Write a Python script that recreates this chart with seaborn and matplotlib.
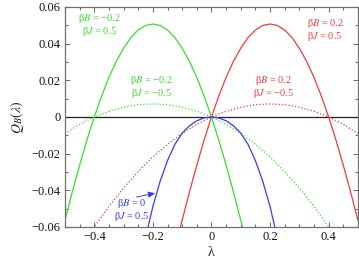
import matplotlib
matplotlib.use("Agg")
import matplotlib.pyplot as plt
import seaborn as sns
import pandas as pd
from matplotlib.ticker import MultipleLocator, FixedLocator, FixedFormatter

# ---- data ----
lam_red_solid = [-0.11, -0.1, -0.075, -0.05, -0.025, 0, 0.025, 0.05, 0.075, 0.1, 0.125, 0.15, 0.175,
                 0.2, 0.225, 0.25, 0.275, 0.3, 0.325, 0.35, 0.375, 0.4, 0.425, 0.45, 0.475, 0.5]
q_red_solid = [-0.0626, -0.0563, -0.0409, -0.0263, -0.0126, 0.0, 0.0114, 0.0216, 0.0303, 0.0375, 0.0433,
               0.0474, 0.0499, 0.0507, 0.0499, 0.0474, 0.0433, 0.0375, 0.0303, 0.0216, 0.0114, 0.0,
               -0.0126, -0.0263, -0.0409, -0.0563]

lam_green_solid = [-0.5, -0.475, -0.45, -0.425, -0.4, -0.375, -0.35, -0.325, -0.3, -0.275, -0.25, -0.225,
                   -0.2, -0.175, -0.15, -0.125, -0.1, -0.075, -0.05, -0.025, 0, 0.025, 0.05, 0.075, 0.1, 0.11]
q_green_solid = [-0.0563, -0.0409, -0.0263, -0.0126, 0.0, 0.0114, 0.0216, 0.0303, 0.0375, 0.0433, 0.0474,
                 0.0499, 0.0507, 0.0499, 0.0474, 0.0433, 0.0375, 0.0303, 0.0216, 0.0114, 0.0,
                 -0.0126, -0.0263, -0.0409, -0.0563, -0.0626]

lam_red_dot = [-0.41, -0.4, -0.35, -0.3, -0.25, -0.2, -0.15, -0.1, -0.05, 0, 0.05, 0.1, 0.15, 0.2,
               0.25, 0.3, 0.35, 0.4, 0.45, 0.5]
q_red_dot = [-0.0624, -0.0600, -0.0488, -0.0388, -0.0298, -0.0218, -0.0149, -0.0090, -0.0040, 0.0,
             0.0031, 0.0053, 0.0067, 0.0071, 0.0067, 0.0053, 0.0031, 0.0, -0.0040, -0.0090]

lam_green_dot = [-0.5, -0.45, -0.4, -0.35, -0.3, -0.25, -0.2, -0.15, -0.1, -0.05, 0, 0.05, 0.1, 0.15,
                 0.2, 0.25, 0.3, 0.35, 0.4, 0.41]
q_green_dot = [-0.0090, -0.0040, 0.0, 0.0031, 0.0053, 0.0067, 0.0071, 0.0067, 0.0053, 0.0031, 0.0,
               -0.0040, -0.0090, -0.0149, -0.0218, -0.0298, -0.0388, -0.0488, -0.0600, -0.0624]

lam_blue = [-0.225, -0.2, -0.175, -0.15, -0.125, -0.1, -0.075, -0.05, -0.025, 0,
            0.025, 0.05, 0.075, 0.1, 0.125, 0.15, 0.175, 0.2, 0.225]
q_blue = [-0.066, -0.0488, -0.0350, -0.0238, -0.0150, -0.0088, -0.0048, -0.0021, -0.0005, 0.0,
          -0.0005, -0.0021, -0.0048, -0.0088, -0.0150, -0.0238, -0.0350, -0.0488, -0.066]

x_ticks = [-0.4, -0.2, 0, 0.2, 0.4]
x_tick_labels = ["\u22120.4", "\u22120.2", "0", "0.2", "0.4"]
y_ticks = [-0.06, -0.04, -0.02, 0, 0.02, 0.04, 0.06]
y_tick_labels = ["\u22120.06", "\u22120.04", "\u22120.02", "0", "0.02", "0.04", "0.06"]

RED = "#f43a3a"
GREEN = "#3ade2e"
BLUE = "#3a3af4"

sns.set_style("ticks")
plt.rcParams["font.family"] = ["Liberation Serif", "DejaVu Serif"]
plt.rcParams["mathtext.fontset"] = "stix"

fig = plt.figure(figsize=(3.59, 2.67), dpi=100)
ax = fig.add_axes([0.181, 0.150, 0.816, 0.824])

ax.axhline(0, color="#222222", lw=0.9, zorder=1)

def draw(lam, q, color, dotted=False):
    df = pd.DataFrame({"lam": lam, "q": q})
    ls = (0, (1, 1.6)) if dotted else "-"
    sns.lineplot(data=df, x="lam", y="q", ax=ax, color=color, lw=0.9, linestyle=ls,
                 legend=False, sort=False, estimator=None, zorder=2)

draw(lam_red_dot, q_red_dot, RED, dotted=True)
draw(lam_green_dot, q_green_dot, GREEN, dotted=True)
draw(lam_red_solid, q_red_solid, RED)
draw(lam_green_solid, q_green_solid, GREEN)
draw(lam_blue, q_blue, BLUE)

ax.set_xlim(-0.5, 0.5)
ax.set_ylim(-0.06, 0.06)
ax.xaxis.set_major_locator(FixedLocator(x_ticks))
ax.xaxis.set_major_formatter(FixedFormatter(x_tick_labels))
ax.yaxis.set_major_locator(FixedLocator(y_ticks))
ax.yaxis.set_major_formatter(FixedFormatter(y_tick_labels))
ax.xaxis.set_minor_locator(MultipleLocator(0.05))
ax.yaxis.set_minor_locator(MultipleLocator(0.01))

frame = "#707070"
for s in ax.spines.values():
    s.set_color(frame)
    s.set_linewidth(0.9)
ax.tick_params(which="both", direction="in", top=True, right=True, color=frame, width=0.8,
               labelsize=9, labelcolor="#111111", pad=3)
ax.tick_params(which="major", length=3.5)
ax.tick_params(which="minor", length=2)

ax.set_xlabel("\u03bb", fontsize=10, labelpad=2)
ax.set_ylabel(r"$Q_B(\lambda)$", fontsize=10, labelpad=4)

fs = 7.5
ax.text(-0.383, 0.0500, "\u03b2$B$ = \u22120.2\n\u03b2$J$ = 0.5", color=GREEN, fontsize=fs,
        ha="center", va="center", linespacing=1.0)
ax.text(-0.204, 0.0162, "\u03b2$B$ = \u22120.2\n\u03b2$J$ = \u22120.5", color=GREEN, fontsize=fs,
        ha="center", va="center", linespacing=1.0)
ax.text(0.388, 0.0475, "\u03b2$B$ = 0.2\n\u03b2$J$ = 0.5", color=RED, fontsize=fs,
        ha="center", va="center", linespacing=1.0)
ax.text(0.212, 0.0164, "\u03b2$B$ = 0.2\n\u03b2$J$ = \u22120.5", color=RED, fontsize=fs,
        ha="center", va="center", linespacing=1.0)
ax.text(-0.273, -0.0510, "\u03b2$B$ = 0\n\u03b2$J$ = 0.5", color=BLUE, fontsize=fs,
        ha="center", va="center", linespacing=1.0)
ax.annotate("", xy=(-0.183, -0.0413), xytext=(-0.265, -0.0440),
            arrowprops=dict(arrowstyle="-|>,head_length=0.4,head_width=0.18", color=BLUE, lw=0.7))

fig.savefig("out.png", dpi=100)
